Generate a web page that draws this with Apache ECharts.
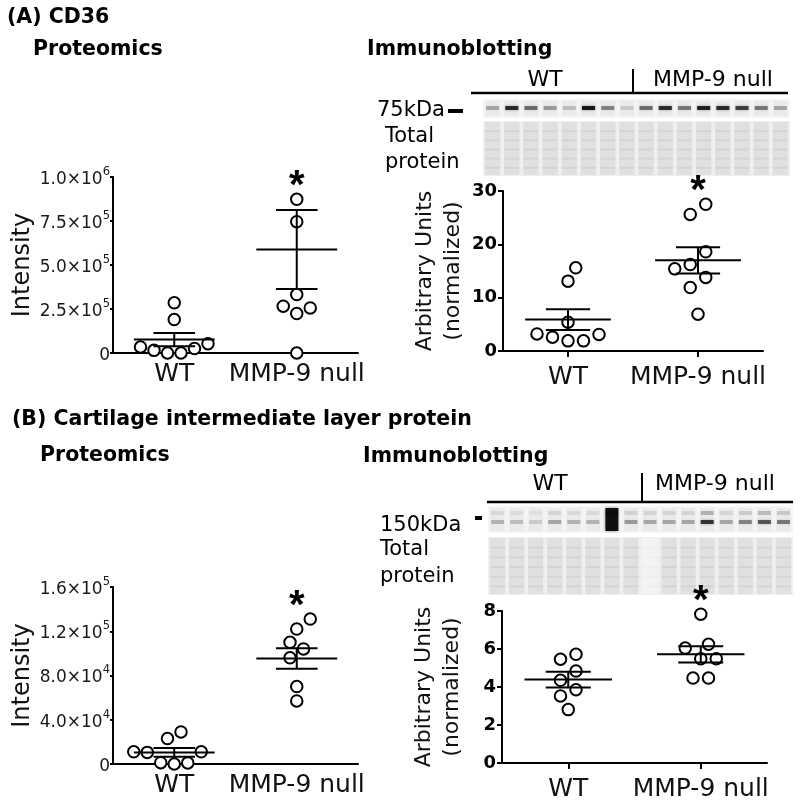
<!DOCTYPE html>
<html><head><meta charset="utf-8">
<script src="https://cdn.jsdelivr.net/npm/echarts@6/dist/echarts.min.js"></script>
<style>html,body{margin:0;padding:0;background:#fff}#c{width:800px;height:807px}</style>
</head><body><div id="c"></div>
<script>
// ---------- data ----------
const categories = ['WT', 'MMP-9 null'];
// (A) CD36 proteomics (Intensity)
const aProtWT = [2.85e5, 1.9e5, 3.4e4, 1.5e4, 0, 0, 2.5e4, 5.3e4];
const aProtKO = [8.73e5, 7.46e5, 3.32e5, 2.56e5, 2.24e5, 2.66e5, 0];
const aProtMean = [7.6e4, 5.88e5];
const aProtSem = [3.8e4, 2.24e5];
const aProtTicks = [0, 2.5e5, 5e5, 7.5e5, 1e6];
// (A) CD36 immunoblotting (arbitrary units)
const aBlotWT = [15.6, 13.1, 5.4, 3.2, 2.6, 1.9, 1.9, 3.1];
const aBlotKO = [27.5, 25.6, 18.6, 15.4, 16.2, 13.8, 11.9, 6.9];
const aBlotMean = [5.9, 17.0];
const aBlotSem = [1.95, 2.45];
const aBlotTicks = [0, 10, 20, 30];
// (B) CILP proteomics
const bProtWT = [2.9e4, 2.3e4, 1.1e4, 1.05e4, 1.1e4, 1.2e3, 0, 1.0e3];
const bProtKO = [1.31e5, 1.22e5, 1.10e5, 1.04e5, 9.6e4, 7.0e4, 5.7e4];
const bProtMean = [1.05e4, 9.54e4];
const bProtSem = [4.0e3, 9.2e3];
const bProtTicks = [0, 4e4, 8e4, 1.2e5, 1.6e5];
// (B) CILP immunoblotting
const bBlotWT = [5.72, 5.46, 4.84, 4.35, 3.86, 3.53, 2.81];
const bBlotKO = [7.83, 6.25, 6.05, 5.49, 5.49, 4.47, 4.47];
const bBlotMean = [4.39, 5.72];
const bBlotSem = [0.41, 0.43];
const bBlotTicks = [0, 2, 4, 6, 8];
// blot band intensities (0..1), 8 WT lanes then 8 MMP-9 null lanes
const blotABands = [0.3, 0.85, 0.55, 0.35, 0.2, 0.95, 0.45, 0.15, 0.55, 0.85, 0.5, 0.9, 0.85, 0.75, 0.5, 0.3];
const blotBBands = [0.25, 0.2, 0.15, 0.3, 0.25, 0.25, 1.0, 0.35, 0.3, 0.3, 0.3, 0.8, 0.3, 0.45, 0.65, 0.5];

// ---------- layout ----------
const FONT = 'DejaVu Sans';
const grids = [
  {left: 113, top: 177, width: 245, height: 176},
  {left: 503, top: 191, width: 260, height: 160},
  {left: 113, top: 587, width: 245, height: 177},
  {left: 502, top: 611, width: 265, height: 152}
];
const panels = [
  {wt: aProtWT, ko: aProtKO, mean: aProtMean, sem: aProtSem, ticks: aProtTicks, sci: true, d: 13.5},
  {wt: aBlotWT, ko: aBlotKO, mean: aBlotMean, sem: aBlotSem, ticks: aBlotTicks, sci: false, d: 15.5},
  {wt: bProtWT, ko: bProtKO, mean: bProtMean, sem: bProtSem, ticks: bProtTicks, sci: true, d: 13.5},
  {wt: bBlotWT, ko: bBlotKO, mean: bBlotMean, sem: bBlotSem, ticks: bBlotTicks, sci: false, d: 15.5}
];

// Prism-like scatter layout: horizontal offsets (px) computed from values
function swarm(vals, ppu, d) {
  const idx = vals.map((v, i) => i).sort((a, b) => vals[a] - vals[b]);
  const off = new Array(vals.length).fill(0);
  const placed = [];
  const tol = 0.8 * d;
  const ok = (x, y) => placed.every(p => (p[0] - x) ** 2 + (p[1] - y) ** 2 >= d * d * 0.97);
  let k = 0;
  while (k < idx.length) {
    const y0 = vals[idx[k]] * ppu;
    const row = [idx[k]]; k++;
    while (k < idx.length && vals[idx[k]] * ppu - y0 < tol) { row.push(idx[k]); k++; }
    const n = row.length;
    const order = [];
    if (n % 2) { const m = (n - 1) / 2; order.push(m); for (let j = 1; j <= m; j++) { order.push(m + j, m - j); } }
    else { const m = n / 2 - 1; for (let j = 0; j <= m; j++) { order.push(m - j, m + 1 + j); } }
    const base = row.map(() => 0);
    row.forEach((id, j) => { base[j] = (order[j] - (n - 1) / 2) * d; });
    const shifts = [0, d / 2, -d / 2, d, -d];
    let done = false;
    for (const s of shifts) {
      if (row.every((id, j) => ok(base[j] + s, vals[id] * ppu))) {
        row.forEach((id, j) => { off[id] = base[j] + s; placed.push([base[j] + s, vals[id] * ppu]); });
        done = true; break;
      }
    }
    if (!done) {
      row.forEach(id => {
        const y = vals[id] * ppu;
        for (let t = 0; t < 20; t++) {
          const c = (t % 2 ? -1 : 1) * Math.ceil(t / 2) * d / 2;
          if (ok(c, y)) { off[id] = c; placed.push([c, y]); break; }
        }
      });
    }
  }
  return off;
}

function sciFmt(v) {
  if (v === 0) return '{n|0}';
  const e = Math.floor(Math.log10(v) + 1e-9);
  const m = v / Math.pow(10, e);
  return '{n|' + m.toFixed(1) + '×10}{sup|' + e + '}';
}

const xAxis = [], yAxis = [], series = [];
panels.forEach((p, g) => {
  const right = !p.sci;
  const max = p.ticks[p.ticks.length - 1];
  xAxis.push({
    type: 'category', gridIndex: g, data: categories, boundaryGap: true,
    axisLine: {show: true, lineStyle: {color: '#000', width: 2}},
    axisTick: {show: right, alignWithLabel: true, length: 6, lineStyle: {color: '#000', width: 2}},
    axisLabel: {color: '#111', fontFamily: FONT, fontSize: 25, margin: right ? 14 : 9, interval: 0},
    splitLine: {show: false}
  });
  yAxis.push({
    type: 'value', gridIndex: g, min: p.ticks[0], max: max, interval: p.ticks[1] - p.ticks[0],
    name: right ? 'Arbitrary Units\n(normalized)' : 'Intensity',
    nameLocation: 'middle', nameGap: right ? 36 : 78,
    nameTextStyle: {color: '#111', fontFamily: FONT, fontSize: right ? 22 : 24, lineHeight: right ? 28 : 24},
    axisLine: {show: true, lineStyle: {color: '#000', width: 2}},
    axisTick: {show: true, length: right ? 5 : 3, lineStyle: {color: '#000', width: 2}},
    splitLine: {show: false},
    axisLabel: right
      ? {color: '#000', fontFamily: FONT, fontWeight: 'bold', fontSize: 18, margin: 6}
      : {color: '#1a1a1a', fontFamily: FONT, margin: 3, formatter: sciFmt,
         rich: {n: {fontFamily: FONT, fontSize: 17, lineHeight: 22, verticalAlign: 'bottom', color: '#1a1a1a'},
                sup: {fontFamily: FONT, fontSize: 11.5, lineHeight: 12, verticalAlign: 'top', color: '#1a1a1a'}}}
  });
  const ppu = grids[g].height / max;
  [p.wt, p.ko].forEach((vals, ci) => {
    const off = swarm(vals, ppu, p.d);
    series.push({
      type: 'scatter', xAxisIndex: g, yAxisIndex: g, clip: false, z: 3,
      symbol: 'circle', symbolSize: 11.5,
      itemStyle: {color: '#fff', borderColor: '#000', borderWidth: 2, opacity: 1},
      emphasis: {disabled: true},
      data: vals.map((v, i) => ({value: [ci, v], symbolOffset: [off[i], 0]}))
    });
  });
  series.push({
    type: 'custom', xAxisIndex: g, yAxisIndex: g, z: 5, clip: false,
    encode: {x: 0, y: 1},
    data: p.mean.map((m, i) => [i, m, p.sem[i]]),
    renderItem: function (params, api) {
      const x = api.value(0), m = api.value(1), s = api.value(2);
      const c = api.coord([x, m]), hi = api.coord([x, m + s]), lo = api.coord([x, m - s]);
      const bw = api.size([1, 0])[0];
      const w1 = bw * 0.33, w2 = bw * 0.17;
      const st = {stroke: '#000', lineWidth: 2};
      return {type: 'group', children: [
        {type: 'line', shape: {x1: c[0] - w1, y1: c[1], x2: c[0] + w1, y2: c[1]}, style: st},
        {type: 'line', shape: {x1: c[0], y1: hi[1], x2: c[0], y2: lo[1]}, style: st},
        {type: 'line', shape: {x1: c[0] - w2, y1: hi[1], x2: c[0] + w2, y2: hi[1]}, style: st},
        {type: 'line', shape: {x1: c[0] - w2, y1: lo[1], x2: c[0] + w2, y2: lo[1]}, style: st}
      ]};
    }
  });
  series.push({
    type: 'custom', xAxisIndex: g, yAxisIndex: g, z: 5, clip: false,
    encode: {x: 0, y: 1},
    data: [[1, Math.max.apply(null, p.ko)]],
    renderItem: function (params, api) {
      const c = api.coord([api.value(0), api.value(1)]);
      return {type: 'text', x: c[0], y: c[1] - 12, style: {text: '*', fontSize: 40, fontWeight: 'bold',
        fontFamily: 'Liberation Sans', fill: '#000', align: 'center', verticalAlign: 'middle'}};
    }
  });
});

// ---------- decorative text and blot pictures ----------
const graphic = [];
function txt(t, x, y, size, bold, align) {
  graphic.push({type: 'text', x: x, y: y, silent: true, style: {text: t, fill: '#000', fontFamily: FONT,
    fontSize: size, fontWeight: bold ? 'bold' : 'normal', align: align || 'left', verticalAlign: 'middle'}});
}
function rect(x, y, w, h, fill, extra) {
  graphic.push(Object.assign({type: 'rect', silent: true, shape: {x: x, y: y, width: w, height: h}, style: {fill: fill}}, extra || {}));
}
function line(x1, y1, x2, y2, w) {
  graphic.push({type: 'line', silent: true, shape: {x1: x1, y1: y1, x2: x2, y2: y2}, style: {stroke: '#000', lineWidth: w}});
}
txt('(A) CD36', 7, 18, 20.5, true);
txt('Proteomics', 33, 50, 20.5, true);
txt('Immunoblotting', 367, 50, 20.5, true);
txt('(B) Cartilage intermediate layer protein', 12, 420, 20.5, true);
txt('Proteomics', 40, 456, 20.5, true);
txt('Immunoblotting', 363, 457, 20.5, true);

function blot(o) {
  txt('WT', o.wtX, o.hy, 22, false, 'center');
  txt('MMP-9 null', o.koX, o.hy, 22, false, 'center');
  line(o.sepX, o.hy - 11, o.sepX, o.lineY, 2);
  line(o.lx1, o.lineY, o.lx2, o.lineY, 2.5);
  // band strip
  rect(o.x, o.by, o.w, o.bh, '#f4f4f4');
  const lw = o.w / 16;
  o.bands.forEach((a, i) => {
    const cx = o.x + lw * (i + 0.5);
    rect(cx - lw * 0.38, o.by + 2, lw * 0.76, o.bh - 4, 'rgba(0,0,0,0.04)');
    const big = o.double && a > 0.9;
    const bandH = big ? o.bh - 4 : 4;
    const bandY = big ? o.by + 2 : o.bandY - 2;
    rect(cx - lw * 0.34, bandY, lw * 0.68, bandH, 'rgba(0,0,0,' + a + ')',
      {style: {fill: 'rgba(0,0,0,' + (a * 0.9) + ')', shadowBlur: 3, shadowColor: 'rgba(0,0,0,' + a * 0.5 + ')'}});
    if (o.double) rect(cx - lw * 0.34, o.by + 5, lw * 0.68, 4, 'rgba(0,0,0,' + (a * 0.3) + ')');
  });
  // total protein
  rect(o.x, o.ty, o.w, o.th, '#efefef');
  for (let i = 0; i < 16; i++) {
    const cx = o.x + lw * (i + 0.5);
    const light = o.gap && i === 8;
    rect(cx - lw * 0.4, o.ty + 1, lw * 0.8, o.th - 2, light ? '#f3f3f3' : '#e0e0e0');
    for (let j = 1; j < 6; j++) rect(cx - lw * 0.4, o.ty + j * o.th / 6, lw * 0.8, 2, light ? 'rgba(0,0,0,0.02)' : 'rgba(0,0,0,0.05)');
  }
  txt(o.kda, o.kx, o.ky, 21, false);
  rect(o.dx, o.dy, o.dw, 4, '#000');
  txt('Total', o.kx2, o.t1, 21, false);
  txt('protein', o.kx2, o.t2, 21, false);
}
blot({wtX: 545, koX: 713, hy: 80, sepX: 633, lineY: 93, lx1: 471, lx2: 788,
  x: 483, w: 307, by: 99, bh: 19, bandY: 108, bands: blotABands, double: false,
  ty: 121, th: 55, gap: false, kda: '75kDa', kx: 377, ky: 111, dx: 448, dy: 109, dw: 15,
  kx2: 385, t1: 137, t2: 163});
blot({wtX: 550, koX: 715, hy: 484, sepX: 642, lineY: 502, lx1: 487, lx2: 793,
  x: 488, w: 305, by: 506, bh: 27, bandY: 522, bands: blotBBands, double: true,
  ty: 537, th: 58, gap: true, kda: '150kDa', kx: 380, ky: 526, dx: 475, dy: 516, dw: 7,
  kx2: 380, t1: 550, t2: 577});

const chart = echarts.init(document.getElementById('c'), null, {renderer: 'canvas'});
chart.setOption({
  animation: false,
  backgroundColor: '#fff',
  grid: grids,
  xAxis: xAxis,
  yAxis: yAxis,
  series: series,
  graphic: graphic
});
</script></body></html>
